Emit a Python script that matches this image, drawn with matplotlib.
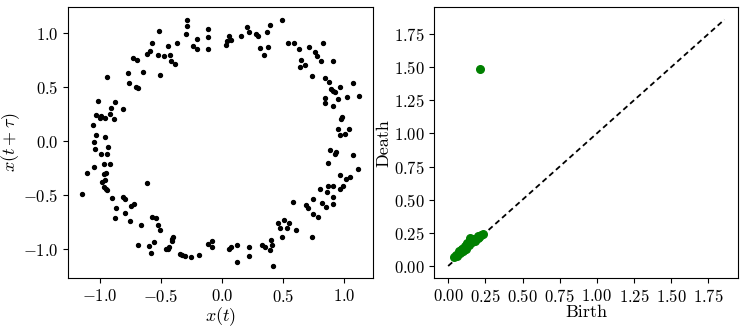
import matplotlib
matplotlib.use("Agg")
import matplotlib.pyplot as plt
import numpy as np

plt.rcParams['font.family'] = 'serif'
plt.rcParams['font.serif'] = ['cmr10']
plt.rcParams['mathtext.fontset'] = 'cm'
plt.rcParams['axes.formatter.use_mathtext'] = True
plt.rcParams['axes.unicode_minus'] = True
plt.rcParams['font.size'] = 12
plt.rcParams['xtick.labelsize'] = 12
plt.rcParams['ytick.labelsize'] = 12
plt.rcParams['axes.labelsize'] = 13

# Time-delay embedding points: x(t), x(t+tau)
xt = [
    -0.292, -0.289, -0.115, -0.298, -0.207, -0.115, -0.516, -0.574, -0.442, -0.369,
    -0.240, -0.205, -0.115, -0.590, -0.615, -0.524, -0.475, -0.426, -0.415, -0.385,
    -0.732, -0.696, -0.773, -0.647, -0.508, -0.942, -0.762, -0.705, -0.688, -1.016,
    -0.877, -0.910, -0.811, -1.033, -0.989, -1.002, -0.959, -0.918, -0.885, -1.057,
    -1.035, -0.961,
    0.489, 0.394, 0.205, 0.224, 0.364, 0.279, 0.298, 0.156, 0.058, 0.069,
    0.041, 0.033, 0.309, 0.372, 0.345, 0.539, 0.590, 0.631, 0.711, 0.828,
    0.763, 0.774, 0.812, 0.910, 0.648, 0.683, 0.640, 0.738, 0.845, 0.877,
    1.069, 0.967, 0.894, 0.905, 0.921, 1.123, 1.025, 0.951, 0.845, 0.845,
    0.910, 0.984, 0.973, 1.041, 0.951, 1.008, 0.962,
    -1.049, -1.041, -0.937, -0.992, -0.940, -0.967, -0.918, -1.052, -1.106, -0.967,
    -0.951, -0.983, -0.959, -0.967, -0.951, -0.942, -1.147, -0.901, -0.869, -0.877,
    -0.811, -0.795, -0.795, -0.746, -0.721, -0.754, -0.666, -0.615, -0.574, -0.546,
    -0.524, -0.508, -0.688, -0.598, -0.557, -0.582, -0.401, -0.410, -0.410, -0.434,
    -0.459, -0.440, -0.344, -0.328, -0.303, -0.254, -0.188, -0.115, -0.082, -0.082,
    0.886, 0.932, 0.926, 1.074, 0.866, 1.115, 0.967, 1.017, 1.049, 0.869,
    0.910, 0.992, 0.967, 0.804, 0.861, 0.910, 0.746, 0.820, 0.910, 0.853,
    0.686, 0.705, 0.582, 0.746, 0.787, 0.459, 0.508, 0.549, 0.476, 0.533,
    0.607, 0.492, 0.738, 0.402, 0.410, 0.394, 0.328, 0.353, 0.222, 0.222,
    0.123, 0.123, 0.074, 0.058, 0.418,
]
xt_tau = [
    1.129, 1.068, 1.046, 0.994, 0.953, 0.963, 1.027, 0.907, 0.882, 0.907,
    0.882, 0.852, 0.852, 0.842, 0.808, 0.796, 0.787, 0.796, 0.744, 0.713,
    0.768, 0.756, 0.632, 0.642, 0.611, 0.592, 0.540, 0.500, 0.490, 0.373,
    0.361, 0.305, 0.299, 0.240, 0.231, 0.216, 0.216, 0.250, 0.206, 0.148,
    0.055, 0.040,
    1.123, 1.074, 1.058, 1.018, 1.009, 0.994, 0.975, 0.975, 0.975, 0.938,
    0.926, 0.889, 0.861, 0.870, 0.796, 0.907, 0.907, 0.852, 0.870, 0.916,
    0.827, 0.787, 0.740, 0.740, 0.750, 0.703, 0.685, 0.602, 0.583, 0.549,
    0.540, 0.500, 0.481, 0.463, 0.453, 0.416, 0.407, 0.389, 0.398, 0.352,
    0.324, 0.222, 0.210, 0.117, 0.111, 0.065, 0.055,
    -0.003, -0.074, -0.056, -0.121, -0.121, -0.213, -0.213, -0.241, -0.297, -0.306,
    -0.297, -0.380, -0.361, -0.426, -0.439, -0.454, -0.491, -0.528, -0.621, -0.713,
    -0.519, -0.537, -0.667, -0.602, -0.584, -0.741, -0.778, -0.389, -0.704, -0.713,
    -0.778, -0.824, -0.963, -0.972, -0.935, -1.037, -0.889, -0.908, -0.926, -0.981,
    -1.000, -1.000, -1.047, -1.056, -1.065, -1.074, -1.056, -0.954, -0.926, -0.981,
    -0.084, -0.096, -0.121, -0.130, -0.204, -0.260, -0.315, -0.352, -0.334, -0.417,
    -0.417, -0.417, -0.445, -0.445, -0.472, -0.519, -0.537, -0.574, -0.584, -0.611,
    -0.593, -0.621, -0.565, -0.676, -0.704, -0.760, -0.732, -0.760, -0.806, -0.806,
    -0.824, -0.889, -0.889, -0.914, -0.963, -1.010, -0.963, -0.981, -0.981, -1.065,
    -0.963, -1.121, -0.981, -1.000, -1.157,
]

# Persistence diagram (birth, death)
birth = [0.04, 0.05, 0.06, 0.07, 0.08, 0.08, 0.09, 0.095, 0.10, 0.105,
         0.11, 0.115, 0.12, 0.125, 0.13, 0.135, 0.14, 0.145, 0.15, 0.155,
         0.145, 0.16, 0.17, 0.18, 0.185, 0.19, 0.20, 0.21, 0.22, 0.235,
         0.12, 0.10, 0.13, 0.16, 0.06, 0.11, 0.14,
         0.07, 0.09, 0.11, 0.13, 0.15, 0.17, 0.20, 0.213]
death = [0.07, 0.08, 0.085, 0.10, 0.10, 0.115, 0.11, 0.125, 0.12, 0.135,
         0.13, 0.14, 0.14, 0.15, 0.15, 0.16, 0.16, 0.17, 0.17, 0.18,
         0.21, 0.18, 0.19, 0.19, 0.20, 0.20, 0.21, 0.22, 0.23, 0.245,
         0.13, 0.115, 0.165, 0.195, 0.075, 0.145, 0.175,
         0.11, 0.13, 0.15, 0.17, 0.19, 0.205, 0.225, 1.486]

fig = plt.figure(figsize=(7.45, 3.29), dpi=100)
ax1 = fig.add_axes([0.0917, 0.154, 0.409, 0.824])
ax2 = fig.add_axes([0.583, 0.154, 0.408, 0.824])

ax1.scatter(xt, xt_tau, s=8, c='black')
ax1.set_xlabel(r'$x(t)$', labelpad=0)
ax1.set_ylabel(r'$x(t+\tau)$')
ax1.yaxis.set_label_coords(-0.152, 0.5)
ax1.set_xticks([-1.0, -0.5, 0.0, 0.5, 1.0])
ax1.set_yticks([-1.0, -0.5, 0.0, 0.5, 1.0])

dmax = max(death) * 1.25
ax2.plot([0, dmax], [0, dmax], color='black', linestyle=(0, (3, 2)), lw=1.3)
ax2.scatter(birth, death, s=30, c='green', zorder=3)
ax2.set_xlabel('Birth', labelpad=0)
ax2.set_ylabel('Death')
ax2.yaxis.set_label_coords(-0.14, 0.5)
ticks = [0.0, 0.25, 0.5, 0.75, 1.0, 1.25, 1.5, 1.75]
ax2.set_xticks(ticks)
ax2.set_yticks(ticks)

fig.savefig('out.png', dpi=100)
